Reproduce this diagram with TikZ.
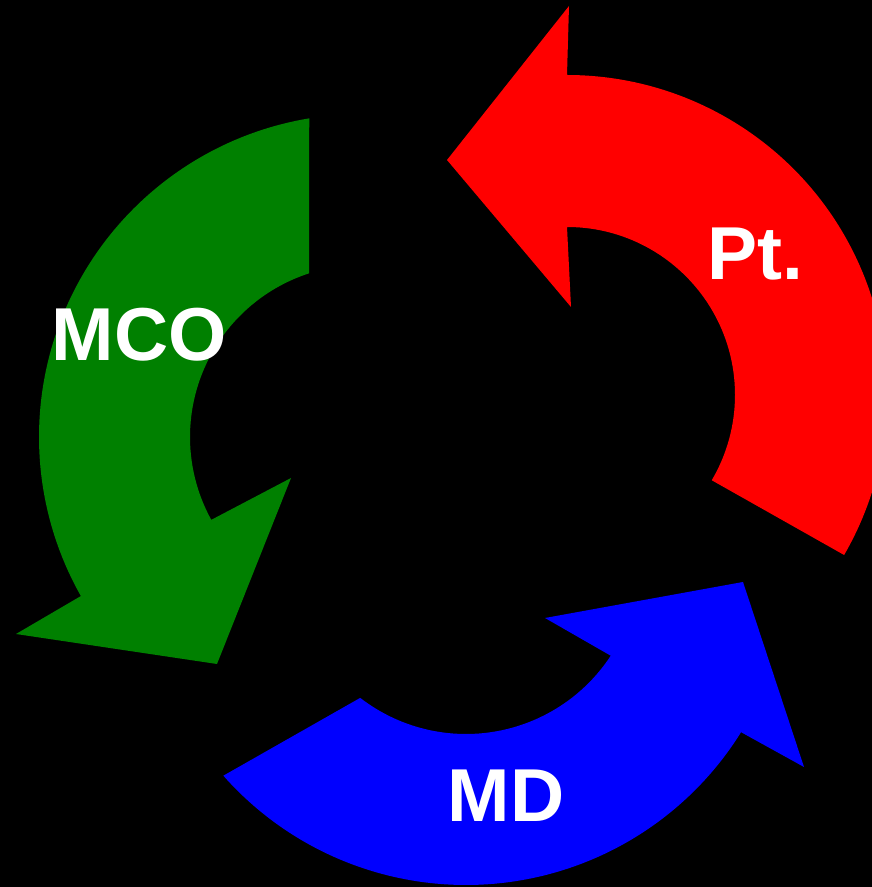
\documentclass[tikz,border=0pt]{standalone}
\usepackage{fontspec}
\setmainfont{Liberation Sans}
\usetikzlibrary{calc}
\definecolor{arrred}{RGB}{255,0,0}
\definecolor{arrblue}{RGB}{0,0,255}
\definecolor{arrgreen}{RGB}{0,128,0}
\begin{document}
\begin{tikzpicture}[x=1pt,y=1pt,
  lbl/.style={text=white,font=\fontsize{75}{90}\selectfont\bfseries,inner sep=0pt,anchor=base west}]
\useasboundingbox (0,0) rectangle (872,887);
\clip (0,0) rectangle (872,887);
\fill[black] (0,0) rectangle (872,887);
% centres of the three arcs
\coordinate (rc) at (567,492);
\coordinate (bc) at (466,326);
\coordinate (gc) at (362,450);
% red arrow (Pt.)
\fill[arrred] ($(rc)+(-30:320pt)$) arc[start angle=-30,end angle=90,radius=320pt]
  -- (569,881) -- (447,727) -- (571,580)
  -- ($(rc)+(90:168pt)$) arc[start angle=90,end angle=-30.5,radius=168pt] -- cycle;
% blue arrow (MD)
\fill[arrblue] ($(bc)+(221.5:324pt)$) arc[start angle=221.5,end angle=328.1,radius=324pt]
  -- (804,120) -- (743,305) -- (545,269)
  -- ($(bc)+(326.8:173pt)$) arc[start angle=326.8,end angle=232.3,radius=173pt] -- cycle;
% green arrow (MCO)
\fill[arrgreen] ($(gc)+(99.4:323pt)$) arc[start angle=99.4,end angle=209.5,radius=323pt]
  -- (16,253) -- (217,223) -- (291,409)
  -- ($(gc)+(208.8:172pt)$) arc[start angle=208.8,end angle=107.9,radius=172pt] -- cycle;
% labels
\node[lbl] (pt) at (707,607) {Pt.};
\node[lbl] (mco) at (51.4,526.5) {MCO};
\node[lbl] (md) at (447.4,65.3) {MD};
\end{tikzpicture}
\end{document}
